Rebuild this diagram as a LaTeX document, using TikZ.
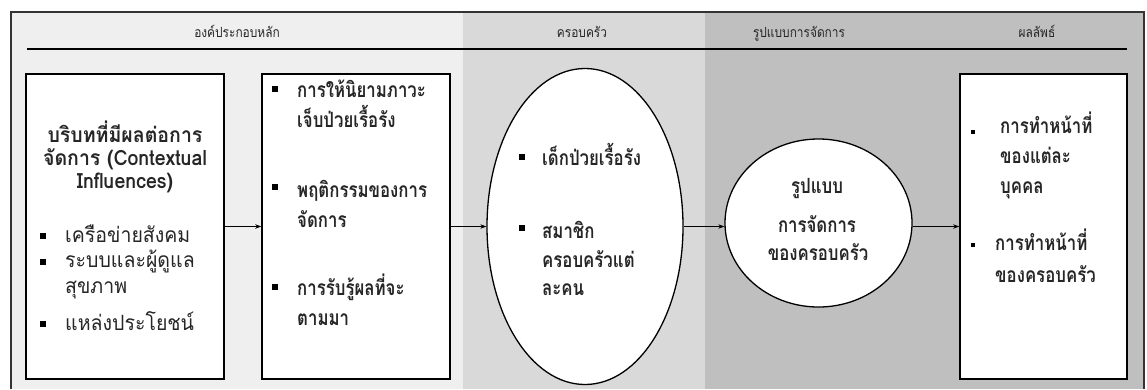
\documentclass[tikz,border=0pt]{standalone}
\usepackage{fontspec}
\usetikzlibrary{arrows.meta,shapes.geometric}
\newfontfamily\thai[Script=Thai,FakeStretch=0.8]{Loma}
\newfontfamily\thaiw[Script=Thai,FakeStretch=0.93]{Loma}
\newfontfamily\thaih[Script=Thai,FakeStretch=0.85]{Loma}
\definecolor{bgA}{HTML}{EFEFEF}
\definecolor{bgB}{HTML}{D9D9D9}
\definecolor{bgC}{HTML}{BFBFBF}
\definecolor{ink}{HTML}{262626}
\definecolor{framec}{HTML}{333333}
\tikzset{
  box/.style={draw=black, line width=1.6pt, fill=white, rectangle, inner sep=0pt},
  oval/.style={draw=black, line width=1.3pt, fill=white, ellipse, inner sep=0pt},
  hdr/.style={font=\thaih\fontsize{14}{16}\selectfont, text=ink, anchor=base, inner sep=0pt},
  txt/.style={font=\thaiw\fontsize{21}{23}\selectfont, text=ink, anchor=base west, inner sep=0pt},
  btxt/.style={font=\thai\bfseries\fontsize{21}{23}\selectfont, text=ink, anchor=base west, inner sep=0pt},
  ctxt/.style={font=\thai\bfseries\fontsize{21}{23}\selectfont, text=ink, anchor=base, inner sep=0pt},
  htxt/.style={font=\thaiw\bfseries\fontsize{21}{23}\selectfont, text=ink, anchor=base, inner sep=0pt},
  sq/.style={fill=black, rectangle, minimum size=5.5pt, inner sep=0pt},
  sqs/.style={fill=black, rectangle, minimum size=4pt, inner sep=0pt},
  arr/.style={draw=black, line width=0.8pt, -{Stealth[length=6pt,width=4.5pt]}}
}
\begin{document}
\begin{tikzpicture}[x=1pt,y=-1pt]
\useasboundingbox (0,0) rectangle (1147,389);
% backgrounds
\fill[bgA] (12,13) rectangle (463,389);
\fill[bgB] (463,13) rectangle (705,389);
\fill[bgC] (705,13) rectangle (1143,389);
\draw[framec, line width=2pt] (11,389) -- (11,12) -- (1144,12) -- (1144,389);
% headers
\node[hdr] (h1) at (237,37) {องค์ประกอบหลัก};
\node[hdr] (h2) at (582,37) {ครอบครัว};
\node[hdr] (h3) at (799,37) {รูปแบบการจัดการ};
\node[hdr] (h4) at (1037,37) {ผลลัพธ์};
\draw[black, line width=1.3pt] (27,49) -- (1127,49);
% shapes
\node[box, minimum width=198pt, minimum height=305pt] (b1) at (125,226.5) {};
\node[box, minimum width=188pt, minimum height=305pt] (b2) at (356,226.5) {};
\node[oval, minimum width=196pt, minimum height=316pt] (el) at (585,226.5) {};
\node[oval, minimum width=187pt, minimum height=168pt] (ci) at (818.5,223) {};
\node[box, minimum width=167pt, minimum height=305pt] (b4) at (1043.5,226.5) {};
% arrows
\draw[arr] (b1) -- (b2);
\draw[arr] (b2) -- (el);
\draw[arr] (el.east) -- (el.east -| ci.west);
\draw[arr] (ci.east |- b4.west) -- (b4.west);
% box 1
\node[htxt] (t1a) at (125,142) {บริบทที่มีผลต่อการ};
\node[htxt] (t1b) at (125,165) {จัดการ (Contextual};
\node[htxt] (t1c) at (125,188) {Influences)};
\node[sq] (s1a) at (43,236) {};
\node[sq] (s1b) at (43,262) {};
\node[sq] (s1c) at (43,324) {};
\node[txt] (t1d) at (65,242) {เครือข่ายสังคม};
\node[txt] (t1e) at (65,267) {ระบบและผู้ดูแล};
\node[txt] (t1f) at (65,293) {สุขภาพ};
\node[txt] (t1g) at (65,330) {แหล่งประโยชน์};
% box 2
\node[sq] (s2a) at (275,89) {};
\node[sq] (s2b) at (275,187) {};
\node[sq] (s2c) at (275,287) {};
\node[btxt] (t2a) at (297,97) {การให้นิยามภาวะ};
\node[btxt] (t2b) at (297,127) {เจ็บป่วยเรื้อรัง};
\node[btxt] (t2c) at (297,197) {พฤติกรรมของการ};
\node[btxt] (t2d) at (297,227) {จัดการ};
\node[btxt] (t2e) at (297,295) {การรับรู้ผลที่จะ};
\node[btxt] (t2f) at (297,325) {ตามมา};
% ellipse
\node[sq] (s3a) at (522,157) {};
\node[sq] (s3b) at (522,228) {};
\node[btxt] (t3a) at (542,165) {เด็กป่วยเรื้อรัง};
\node[btxt] (t3b) at (542,238) {สมาชิก};
\node[btxt] (t3c) at (542,267) {ครอบครัวแต่};
\node[btxt] (t3d) at (542,295) {ละคน};
% circle
\node[ctxt] (t4a) at (817,193) {รูปแบบ};
\node[ctxt] (t4b) at (817,232) {การจัดการ};
\node[ctxt] (t4c) at (818,260) {ของครอบครัว};
% box 4
\node[sqs] (s5a) at (973,132) {};
\node[sqs] (s5b) at (973,245) {};
\node[btxt] (t5a) at (1000,133) {การทำหน้าที่};
\node[btxt] (t5b) at (1000,163) {ของแต่ละ};
\node[btxt] (t5c) at (1000,193) {บุคคล};
\node[btxt] (t5d) at (995,250) {การทำหน้าที่};
\node[btxt] (t5e) at (995,282) {ของครอบครัว};
\end{tikzpicture}
\end{document}
